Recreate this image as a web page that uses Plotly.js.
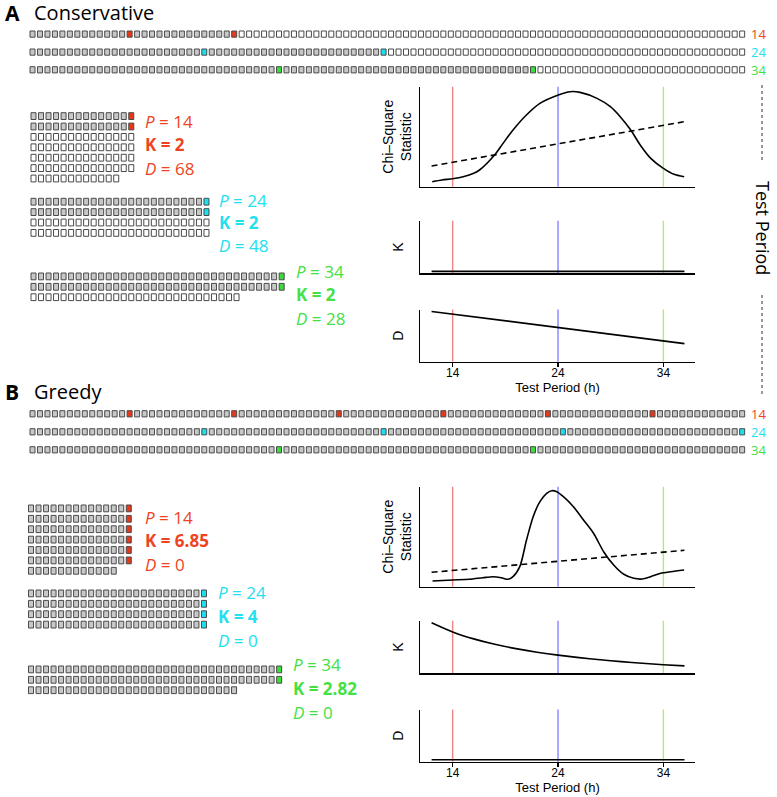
<!DOCTYPE html>
<html><head><meta charset="utf-8">
<script src="https://cdn.plot.ly/plotly-3.0.1.min.js"></script>
<style>html,body{margin:0;padding:0;background:#fff}</style>
</head><body><div id="chart" style="width:777px;height:797px"></div>
<script>
// ---------------- data ----------------
const nPoints = 96;
const periods = [14, 24, 34];
const periodLabels = ['14', '24', '34'];
const consK = [2, 2, 2];
const consD = [68, 48, 28];
const greedyK = [6.85, 4, 2.82];
const greedyD = [0, 0, 0];
const xTickVals = [14, 24, 34];

// Conservative chi-square periodogram (arbitrary units)
const chiPeriodA = [12.06, 13.0, 14.0, 15.0, 16.0, 16.55, 17.98, 18.78, 19.73, 21.0, 22.28, 24.03, 25.15, 26.1, 27.7, 28.97, 29.9, 30.9, 31.8, 32.8, 34.0, 35.0, 35.97];
const chiA = [5.0, 6.7, 8.0, 10.0, 13.4, 16.7, 31.7, 43.3, 56.7, 71.7, 83.3, 91.7, 95.0, 94.3, 88.3, 80.0, 70.0, 56.7, 41.7, 28.3, 18.3, 12.4, 10.0];
const threshPeriodA = [12, 36];
const threshA = [20.7, 65.0];

// Greedy chi-square periodogram
const chiPeriodB = [12.09, 14.0, 15.59, 16.87, 17.82, 18.62, 19.25, 19.73, 20.37, 21.01, 21.64, 22.28, 22.92, 23.4, 23.88, 24.51, 25.46, 26.42, 27.37, 28.33, 29.28, 30.24, 31.19, 31.99, 32.79, 33.74, 34.7, 35.97];
const chiB = [5.7, 6.7, 7.4, 9.0, 10.0, 9.0, 7.4, 10.0, 20.0, 46.7, 70.0, 85.0, 93.4, 96.0, 95.0, 90.0, 80.0, 66.7, 53.4, 35.0, 21.7, 12.4, 8.4, 7.7, 10.0, 13.4, 15.0, 16.7];
const threshPeriodB = [12, 36];
const threshB = [14.4, 36.4];

// K and D versus test period
const kdPeriod = [12, 14, 16, 18, 20, 22, 24, 26, 28, 30, 32, 34, 36];
const kGreedy = [8.0, 6.86, 6.0, 5.33, 4.8, 4.36, 4.0, 3.69, 3.43, 3.2, 3.0, 2.82, 2.67];
const kConsPeriod = [12, 36];
const kCons = [2, 2];
const dConsPeriod = [12, 36];
const dCons = [72, 24];
const dGreedyPeriod = [12, 36];
const dGreedy = [0, 0];

// ---------------- styles ----------------
const W = 777, H = 797;
const fillCol = ['#E8381A', '#1CE0F0', '#3CDC3C'];
const textCol = ['#EE4422', '#22E0EE', '#44E044'];
const vlineCol = ['rgba(240,120,120,0.9)', 'rgba(120,120,255,0.9)', 'rgba(160,235,110,0.9)'];
const GRAY = '#c8c8c8', WHITE = '#ffffff', EDGE = '#4a4a4a';
const px = v => v / W;
const py = v => 1 - v / H;

const traces = [];

function cellColor(i, P, used, k) {
  if (i > used) return WHITE;
  return (i % P === 0) ? fillCol[k] : GRAY;
}

// long rows at top
function addRow(k, P, used, top) {
  const left = 30, pitch = 7.47, cw = 5.0, ch = 6.2;
  const xs = [], bs = [], hs = [], cs = [];
  for (let i = 1; i <= nPoints; i++) {
    xs.push(left + (i - 1) * pitch + cw / 2);
    bs.push(top); hs.push(ch);
    cs.push(cellColor(i, P, used, k));
  }
  traces.push({type: 'bar', x: xs, y: hs, base: bs, width: cw, xaxis: 'x7', yaxis: 'y7',
    marker: {color: cs, line: {color: EDGE, width: 1}}, hoverinfo: 'skip', showlegend: false});
}
// folded grids
function addGrid(k, P, used, left, top) {
  const pitch = 7.52, cw = 5.0, ch = 6.8, rp = 10.4;
  const xs = [], bs = [], hs = [], cs = [];
  for (let i = 1; i <= nPoints; i++) {
    const r = Math.floor((i - 1) / P), c = (i - 1) % P;
    xs.push(left + c * pitch + cw / 2);
    bs.push(top + r * rp); hs.push(ch);
    cs.push(cellColor(i, P, used, k));
  }
  traces.push({type: 'bar', x: xs, y: hs, base: bs, width: cw, xaxis: 'x7', yaxis: 'y7',
    marker: {color: cs, line: {color: EDGE, width: 1}}, hoverinfo: 'skip', showlegend: false});
}

const rowTopsA = [31, 49, 66.7], rowTopsB = [410.7, 428.7, 446.7];
const gridTopsA = [112.7, 198.3, 273], gridTopsB = [505, 590, 666];
periods.forEach((P, k) => {
  addRow(k, P, consK[k] * P, rowTopsA[k]);
  addRow(k, P, nPoints, rowTopsB[k]);
  addGrid(k, P, consK[k] * P, 31, gridTopsA[k]);
  addGrid(k, P, nPoints, 28.5, gridTopsB[k]);
});

// ---------------- chart traces ----------------
const lineBlack = {color: '#000', width: 1.6};
traces.push({type: 'scatter', mode: 'lines', x: chiPeriodA, y: chiA, xaxis: 'x', yaxis: 'y', line: Object.assign({shape: 'spline', smoothing: 0.8}, lineBlack), hoverinfo: 'skip', showlegend: false});
traces.push({type: 'scatter', mode: 'lines', x: threshPeriodA, y: threshA, xaxis: 'x', yaxis: 'y', line: {color: '#000', width: 1.6, dash: '6px,4px'}, hoverinfo: 'skip', showlegend: false});
traces.push({type: 'scatter', mode: 'lines', x: kConsPeriod, y: kCons, xaxis: 'x2', yaxis: 'y2', line: lineBlack, hoverinfo: 'skip', showlegend: false});
traces.push({type: 'scatter', mode: 'lines', x: dConsPeriod, y: dCons, xaxis: 'x3', yaxis: 'y3', line: lineBlack, hoverinfo: 'skip', showlegend: false});
traces.push({type: 'scatter', mode: 'lines', x: chiPeriodB, y: chiB, xaxis: 'x4', yaxis: 'y4', line: Object.assign({shape: 'spline', smoothing: 0.8}, lineBlack), hoverinfo: 'skip', showlegend: false});
traces.push({type: 'scatter', mode: 'lines', x: threshPeriodB, y: threshB, xaxis: 'x4', yaxis: 'y4', line: {color: '#000', width: 1.6, dash: '6px,4px'}, hoverinfo: 'skip', showlegend: false});
traces.push({type: 'scatter', mode: 'lines', x: kdPeriod, y: kGreedy, xaxis: 'x5', yaxis: 'y5', line: Object.assign({shape: 'spline', smoothing: 0.6}, lineBlack), hoverinfo: 'skip', showlegend: false});
traces.push({type: 'scatter', mode: 'lines', x: dGreedyPeriod, y: dGreedy, xaxis: 'x6', yaxis: 'y6', line: lineBlack, hoverinfo: 'skip', showlegend: false});

// ---------------- layout ----------------
const xDom = [px(420), px(695)];
const xRange = [10.9, 37.0];
const plotRows = [ // [top, bottom] in pixels
  [86.7, 186.7], [220.7, 273.3], [309.5, 361.7],
  [486.7, 586.7], [620.7, 673.3], [709.5, 761.7]
];
const yRanges = [[0, 100], [1.76, 8.24], [-2.88, 74.88], [0, 100], [1.76, 8.24], [-2.88, 74.88]];
const yTitles = ['Chi–Square<br>Statistic', 'K', 'D', 'Chi–Square<br>Statistic', 'K', 'D'];
const yStand = [3, 11, 11, 3, 11, 11];
const axFont = {family: 'Liberation Sans, Arial, sans-serif', size: 13, color: '#000'};
const yFont = {family: 'Liberation Sans, Arial, sans-serif', size: 14, color: '#000'};

const layout = {
  width: W, height: H, margin: {l: 0, r: 0, t: 0, b: 0},
  paper_bgcolor: '#fff', plot_bgcolor: 'rgba(0,0,0,0)',
  barmode: 'overlay', showlegend: false, hovermode: false,
  font: axFont,
  shapes: [], annotations: []
};

plotRows.forEach((rw, j) => {
  const n = j + 1;
  const xa = 'xaxis' + (n === 1 ? '' : n), ya = 'yaxis' + (n === 1 ? '' : n);
  const isBottom = (j === 2 || j === 5);
  layout[xa] = {
    domain: xDom, range: xRange, anchor: 'y' + (n === 1 ? '' : n),
    showline: true, linecolor: '#000', linewidth: 1.5, showgrid: false, zeroline: false,
    ticks: isBottom ? 'outside' : '', ticklen: 4, tickwidth: 1.2, tickcolor: '#000',
    tickvals: xTickVals, showticklabels: isBottom, ticklabelstandoff: -5,
    tickfont: {family: 'Liberation Sans, Arial, sans-serif', size: 12, color: '#000'},
    title: isBottom ? {text: 'Test Period (h)', font: axFont, standoff: 2} : {text: ''},
    fixedrange: true
  };
  layout[ya] = {
    domain: [py(rw[1]), py(rw[0])], range: yRanges[j], anchor: 'x' + (n === 1 ? '' : n),
    showline: true, linecolor: '#000', linewidth: 1.5, showgrid: false, zeroline: false,
    ticks: '', showticklabels: false,
    title: {text: yTitles[j], font: yFont, standoff: yStand[j]},
    fixedrange: true
  };
  periods.forEach((P, k) => {
    layout.shapes.push({type: 'line', xref: 'x' + (n === 1 ? '' : n), yref: 'y' + (n === 1 ? '' : n) + ' domain',
      x0: P, x1: P, y0: 0, y1: 1, line: {color: vlineCol[k], width: 1.4}, layer: 'below'});
  });
});

layout.xaxis7 = {domain: [0, 1], range: [0, W], visible: false, fixedrange: true, anchor: 'y7'};
layout.yaxis7 = {domain: [0, 1], range: [H, 0], visible: false, fixedrange: true, anchor: 'x7'};

// Test Period dotted brackets
layout.shapes.push({type: 'line', xref: 'paper', yref: 'paper', x0: px(762), x1: px(762), y0: py(85), y1: py(160), line: {color: '#333', width: 1, dash: 'dot'}});
layout.shapes.push({type: 'line', xref: 'paper', yref: 'paper', x0: px(762), x1: px(762), y0: py(295), y1: py(395), line: {color: '#333', width: 1, dash: 'dot'}});

const ann = layout.annotations;
const sansF = 'Open Sans, Noto Sans, sans-serif';
function txt(x, y, text, size, color, extra) {
  ann.push(Object.assign({xref: 'paper', yref: 'paper', x: px(x), y: py(y), text: text, showarrow: false,
    xanchor: 'left', yanchor: 'middle', font: {family: sansF, size: size, color: color}}, extra || {}));
}
txt(3, 13, '<b>A</b>', 21, '#000');
txt(32, 13, 'Conservative', 20, '#000');
txt(3, 392, '<b>B</b>', 21, '#000');
txt(32, 392, 'Greedy', 20, '#000');
txt(763, 228, 'Test Period', 18, '#000', {xanchor: 'center', textangle: 90, borderpad: 0});

periods.forEach((P, k) => {
  txt(750, rowTopsA[k] + 3.2, periodLabels[k], 13, textCol[k], {borderpad: 0});
  txt(750, rowTopsB[k] + 3.2, periodLabels[k], 13, textCol[k], {borderpad: 0});
});

const textXA = [143, 217, 294], textYA = [[121, 144, 168], [200, 223, 246], [271, 294, 318]];
const textXB = [143, 216, 291], textYB = [[517, 540, 564], [592, 616, 640], [664, 688, 712]];
periods.forEach((P, k) => {
  txt(textXA[k], textYA[k][0], '<i>P</i> = ' + P, 17, textCol[k]);
  txt(textXA[k], textYA[k][1], '<b>K = ' + consK[k] + '</b>', 17, textCol[k]);
  txt(textXA[k], textYA[k][2], '<i>D</i> = ' + consD[k], 17, textCol[k]);
  txt(textXB[k], textYB[k][0], '<i>P</i> = ' + P, 17, textCol[k]);
  txt(textXB[k], textYB[k][1], '<b>K = ' + greedyK[k] + '</b>', 17, textCol[k]);
  txt(textXB[k], textYB[k][2], '<i>D</i> = ' + greedyD[k], 17, textCol[k]);
});

Plotly.newPlot('chart', traces, layout, {staticPlot: true, displayModeBar: false});
</script></body></html>
